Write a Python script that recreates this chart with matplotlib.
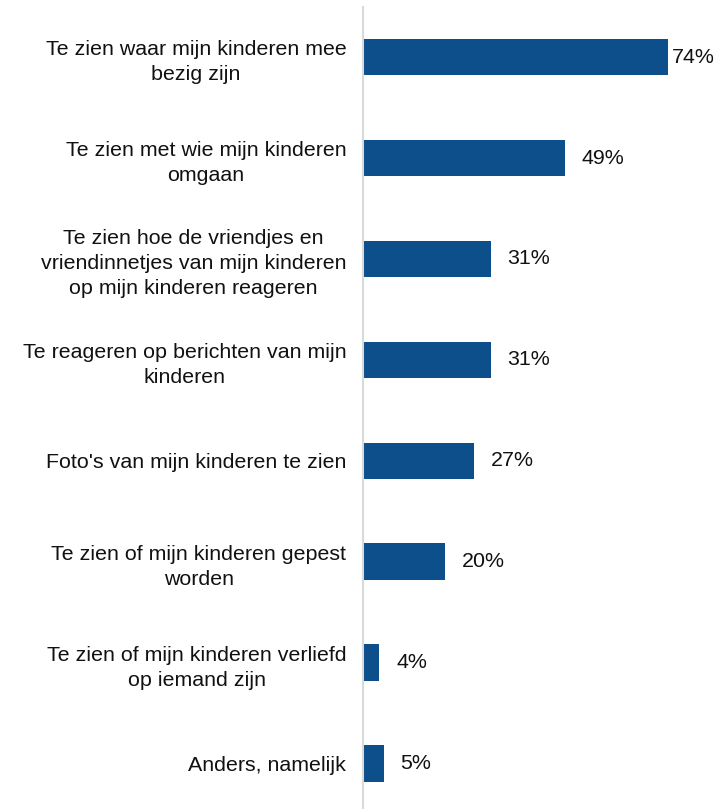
import matplotlib.pyplot as plt

categories = [
    "Te zien waar mijn kinderen mee\nbezig zijn",
    "Te zien met wie mijn kinderen\nomgaan",
    "Te zien hoe de vriendjes en\nvriendinnetjes van mijn kinderen\nop mijn kinderen reageren",
    "Te reageren op berichten van mijn\nkinderen",
    "Foto's van mijn kinderen te zien",
    "Te zien of mijn kinderen gepest\nworden",
    "Te zien of mijn kinderen verliefd\nop iemand zijn",
    "Anders, namelijk",
]
values = [74, 49, 31, 31, 27, 20, 4, 5]

plt.rcParams['font.family'] = ['Liberation Sans', 'DejaVu Sans']

W, H = 727, 809
fig = plt.figure(figsize=(W / 100, H / 100), dpi=100)
ax = fig.add_axes([363 / W, -0.006, 1 - 363 / W, 807.2 / H])

ypos = list(range(len(categories)))
ax.barh(ypos, values, height=0.36, color='#0c4f8b')
ax.set_ylim(len(categories) - 0.5, -0.5)
ax.set_xlim(0, 88.4)

ax.set_yticks(ypos)
ax.set_yticklabels(categories, fontsize=15.4, color='#111111')
for lab in ax.get_yticklabels():
    lab.set_multialignment('center')
    lab.set_linespacing(1.4)
ax.tick_params(axis='y', length=0, pad=12)
ax.tick_params(axis='x', bottom=False, labelbottom=False)

for s in ['top', 'right', 'bottom']:
    ax.spines[s].set_visible(False)
ax.spines['left'].set_color('#d9d9d9')
ax.spines['left'].set_linewidth(1.5)

for y, v in zip(ypos, values):
    # the longest bar's label sits tight against the bar so it fits in the frame
    gap = 3 if v > 70 else 12
    ax.annotate(f"{v}%", (v, y), xytext=(gap, 0), textcoords='offset points',
                va='center', ha='left', fontsize=15.4, color='#111111')

fig.savefig('out.png', dpi=100)
